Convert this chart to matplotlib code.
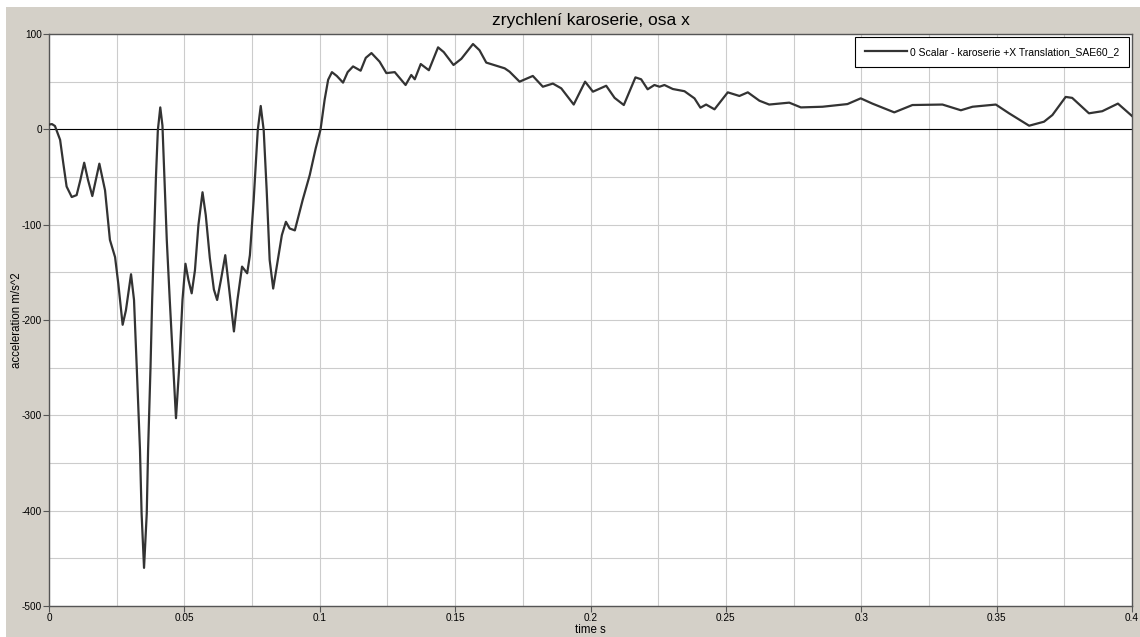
import matplotlib.pyplot as plt
from matplotlib.patches import Rectangle

plt.rcParams['font.family'] = ['Liberation Sans', 'DejaVu Sans']
plt.rcParams['axes.unicode_minus'] = False

# Datos
time_s = [0.0000, 0.0011, 0.0022, 0.0041, 0.0053, 0.0065, 0.0084, 0.0102, 0.0116, 0.0130,
          0.0144, 0.0160, 0.0173, 0.0186, 0.0207, 0.0225, 0.0244, 0.0256, 0.0272, 0.0284,
          0.0303, 0.0314, 0.0324, 0.0336, 0.0342, 0.0351, 0.0361, 0.0366, 0.0375, 0.0381,
          0.0395, 0.0402, 0.0411, 0.0419, 0.0426, 0.0435, 0.0446, 0.0459, 0.0469, 0.0481,
          0.0493, 0.0504, 0.0515, 0.0527, 0.0539, 0.0552, 0.0567, 0.0579, 0.0594, 0.0609,
          0.0621, 0.0635, 0.0651, 0.0664, 0.0683, 0.0696, 0.0713, 0.0732, 0.0742, 0.0756,
          0.0771, 0.0782, 0.0793, 0.0804, 0.0815, 0.0828, 0.0845, 0.0860, 0.0875, 0.0889,
          0.0908, 0.0937, 0.0963, 0.0985, 0.1003, 0.1018, 0.1031, 0.1045, 0.1063, 0.1086,
          0.1103, 0.1123, 0.1151, 0.1170, 0.1191, 0.1221, 0.1246, 0.1277, 0.1317, 0.1338,
          0.1351, 0.1373, 0.1403, 0.1437, 0.1458, 0.1494, 0.1523, 0.1566, 0.1590, 0.1615,
          0.1683, 0.1701, 0.1738, 0.1787, 0.1824, 0.1861, 0.1892, 0.1938, 0.1980, 0.2009,
          0.2058, 0.2089, 0.2123, 0.2166, 0.2187, 0.2211, 0.2236, 0.2255, 0.2273, 0.2304,
          0.2347, 0.2384, 0.2406, 0.2427, 0.2458, 0.2507, 0.2550, 0.2581, 0.2624, 0.2660,
          0.2734, 0.2777, 0.2857, 0.2949, 0.2998, 0.3041, 0.3122, 0.3189, 0.3300, 0.3368,
          0.3411, 0.3497, 0.3546, 0.3620, 0.3675, 0.3706, 0.3755, 0.3779, 0.3841, 0.3890,
          0.3948, 0.3989, 0.4000]
accel = [5, 5.5, 3.5, -11, -36, -60, -71, -69, -53, -35,
         -53, -70, -53, -36, -64, -116, -134, -162, -205, -190,
         -152, -179, -249, -336, -403, -460, -403, -336, -249, -179,
         -50, -1, 23, 4, -49, -116, -179, -249, -303, -249,
         -179, -141, -158, -172, -148, -100, -66, -90, -135, -168,
         -179, -158, -132, -164, -212, -179, -144, -151, -132, -74,
         -1, 24.5, -1, -64, -137, -167, -137, -111, -97, -104,
         -106, -74, -48, -20, 0, 31, 52, 60, 56, 49,
         60, 66, 61.5, 75, 80, 71, 59, 60, 46.5, 57,
         52.5, 68.5, 62, 86, 81, 67.5, 74, 89.5, 83, 70,
         64, 60.5, 50, 56, 44.7, 48, 43, 26, 50, 39.5,
         45.7, 33, 25.5, 54.5, 52.5, 42, 46.5, 44.7, 46.5, 42.3,
         40, 32.5, 22.7, 26, 21, 38.8, 35, 38.8, 30, 26,
         28, 23, 23.7, 26.5, 32.5, 27, 17.8, 25.5, 26, 20,
         23.7, 26, 16.8, 3.8, 8, 15, 34, 33, 16.8, 19,
         27, 16.8, 14]

x_ticks = [0, 0.05, 0.1, 0.15, 0.2, 0.25, 0.3, 0.35, 0.4]
x_tick_labels = ['0', '0.05', '0.1', '0.15', '0.2', '0.25', '0.3', '0.35', '0.4']
y_ticks = [-500, -400, -300, -200, -100, 0, 100]

fig = plt.figure(figsize=(11.4, 6.37), dpi=100, facecolor='white')
# fondo gris estilo ventana
fig.patches.append(Rectangle((6 / 1140, 0), 1, 1 - 7 / 637, transform=fig.transFigure,
                             facecolor='#d4d0c8', edgecolor='none', zorder=-10))

ax = fig.add_axes([49 / 1140, 1 - 606 / 637, 1083 / 1140, 572 / 637])
ax.set_facecolor('white')

ax.plot(time_s, accel, color='#333333', linewidth=1.6,
        label='0 Scalar - karoserie +X Translation_SAE60_2', zorder=3)
ax.axhline(0, color='black', linewidth=0.8, zorder=2)

ax.set_xlim(0, 0.4)
ax.set_ylim(-500, 100)
ax.set_xticks(x_ticks)
ax.set_xticklabels(x_tick_labels)
ax.set_xticks([i * 0.025 for i in range(17)], minor=True)
ax.set_yticks(y_ticks)
ax.set_yticks(list(range(-500, 101, 50)), minor=True)
ax.grid(True, which='both', color='#cccccc', linewidth=0.8, zorder=1)
ax.tick_params(which='major', direction='out', length=4, width=0.8, color='#555555',
               labelsize=7.2, pad=1)
ax.tick_params(which='minor', length=0)
for s in ax.spines.values():
    s.set_color('#555555')
    s.set_linewidth(1)

ax.set_xlabel('time s', fontsize=8.3, labelpad=0.5)
ax.set_ylabel('acceleration m/s^2', fontsize=8.3, labelpad=-1)
ax.set_title('zrychlení karoserie, osa x', fontsize=12.5, pad=6.5)

leg = ax.legend(loc='upper right', fontsize=7.5, fancybox=False, framealpha=1,
                edgecolor='black', handlelength=4, handletextpad=0.25,
                borderpad=1.0, borderaxespad=0.25)
leg.get_frame().set_linewidth(0.8)

fig.savefig('out.png', dpi=100, facecolor=fig.get_facecolor())
